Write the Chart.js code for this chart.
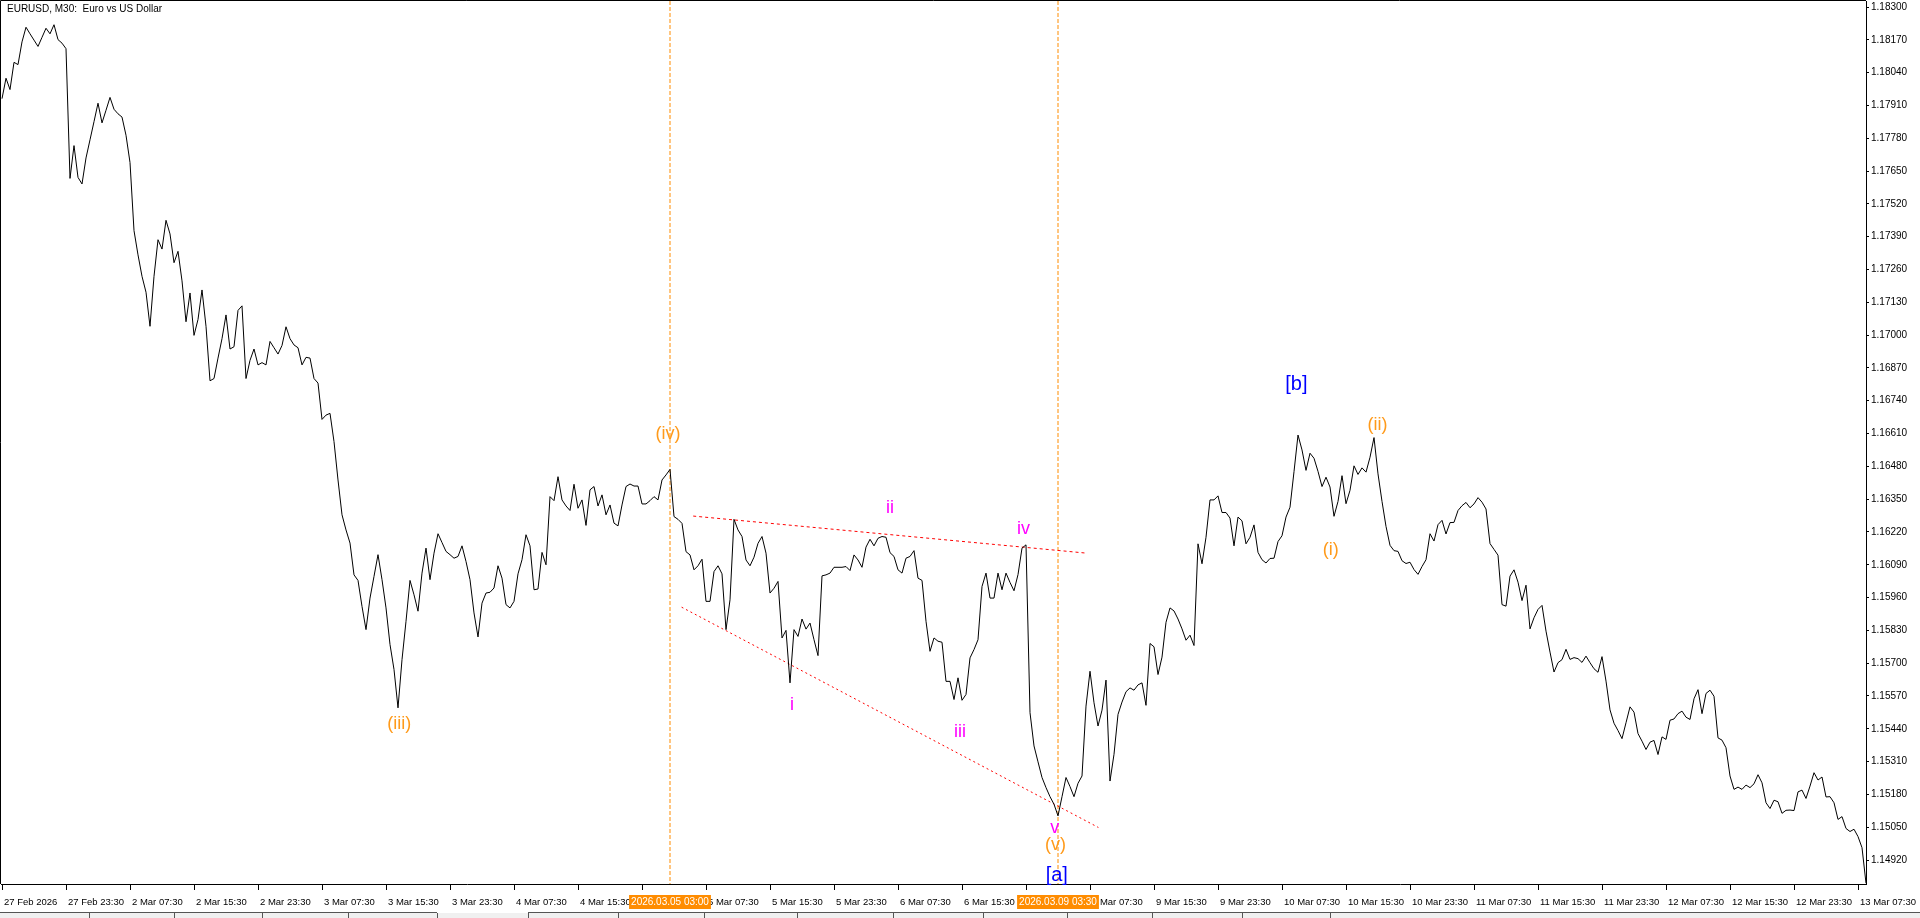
<!DOCTYPE html>
<html>
<head>
<meta charset="utf-8">
<title>EURUSD, M30</title>
<script src="https://cdn.jsdelivr.net/npm/chart.js@4.4.1/dist/chart.umd.min.js"></script>
<style>
  html, body { margin: 0; padding: 0; background: #fff; overflow: hidden; }
  #wrap { position: relative; width: 1920px; height: 918px; }
</style>
</head>
<body>
<div id="wrap"><canvas id="priceChart"></canvas></div>
<script>
// M30 closes, one per bar, bar 0 = 27 Feb 15:30
const closes = [
  1.17937, 1.18018, 1.17973, 1.18081, 1.18072, 1.18162, 1.18220, 1.18194, 1.18169, 1.18144,
  1.18180, 1.18216, 1.18194, 1.18230, 1.18171, 1.18157, 1.18135, 1.17621, 1.17751, 1.17625,
  1.17599, 1.17702, 1.17774, 1.17846, 1.17919, 1.17841, 1.17891, 1.17942, 1.17895, 1.17877,
  1.17864, 1.17792, 1.17684, 1.17414, 1.17318, 1.17233, 1.17170, 1.17035, 1.17233, 1.17378,
  1.17341, 1.17455, 1.17401, 1.17287, 1.17332, 1.17215, 1.17053, 1.17167, 1.16999, 1.17062,
  1.17179, 1.17035, 1.16819, 1.16828, 1.16909, 1.16986, 1.17080, 1.16945, 1.16954, 1.17098,
  1.17116, 1.16828, 1.16900, 1.16945, 1.16882, 1.16891, 1.16882, 1.16975, 1.16950, 1.16925,
  1.16959, 1.17033, 1.16986, 1.16961, 1.16950, 1.16882, 1.16912, 1.16909, 1.16828, 1.16810,
  1.16666, 1.16683, 1.16690, 1.16578, 1.16426, 1.16288, 1.16228, 1.16176, 1.16050, 1.16028,
  1.15925, 1.15833, 1.15958, 1.16044, 1.16130, 1.16031, 1.15919, 1.15774, 1.15675, 1.15523,
  1.15714, 1.15866, 1.16028, 1.15971, 1.15906, 1.16057, 1.16156, 1.16031, 1.16136, 1.16213,
  1.16178, 1.16143, 1.16130, 1.16116, 1.16123, 1.16165, 1.16103, 1.16031, 1.15899, 1.15804,
  1.15938, 1.15978, 1.15981, 1.15998, 1.16086, 1.16037, 1.15932, 1.15919, 1.15945, 1.16054,
  1.16110, 1.16209, 1.16165, 1.15991, 1.15994, 1.16139, 1.16090, 1.16360, 1.16344, 1.16439,
  1.16347, 1.16323, 1.16305, 1.16409, 1.16314, 1.16347, 1.16246, 1.16387, 1.16400, 1.16323,
  1.16367, 1.16288, 1.16327, 1.16255, 1.16244, 1.16327, 1.16400, 1.16410, 1.16402, 1.16402,
  1.16331, 1.16331, 1.16344, 1.16360, 1.16347, 1.16426, 1.16446, 1.16468, 1.16281, 1.16270,
  1.16254, 1.16142, 1.16129, 1.16070, 1.16086, 1.16112, 1.15945, 1.15945, 1.16063, 1.16086,
  1.16054, 1.15833, 1.15951, 1.16270, 1.16228, 1.16202, 1.16109, 1.16086, 1.16120, 1.16175,
  1.16202, 1.16136, 1.15978, 1.15997, 1.16024, 1.15800, 1.15830, 1.15622, 1.15833, 1.15806,
  1.15875, 1.15835, 1.15859, 1.15793, 1.15730, 1.16046, 1.16050, 1.16057, 1.16080, 1.16080,
  1.16080, 1.16083, 1.16067, 1.16129, 1.16109, 1.16080, 1.16160, 1.16191, 1.16165, 1.16195,
  1.16202, 1.16199, 1.16138, 1.16123, 1.16070, 1.16057, 1.16116, 1.16123, 1.16146, 1.16037,
  1.16028, 1.15866, 1.15747, 1.15800, 1.15787, 1.15783, 1.15628, 1.15628, 1.15556, 1.15642,
  1.15553, 1.15576, 1.15721, 1.15754, 1.15793, 1.16004, 1.16057, 1.15958, 1.15958, 1.16057,
  1.15991, 1.16057, 1.16020, 1.15987, 1.16051, 1.16156, 1.16169, 1.15504, 1.15372, 1.15309,
  1.15247, 1.15207, 1.15171, 1.15141, 1.15095, 1.15171, 1.15247, 1.15211, 1.15171, 1.15224,
  1.15253, 1.15530, 1.15668, 1.15543, 1.15451, 1.15514, 1.15633, 1.15233, 1.15339, 1.15497,
  1.15546, 1.15587, 1.15602, 1.15593, 1.15614, 1.15622, 1.15533, 1.15778, 1.15765, 1.15655,
  1.15724, 1.15862, 1.15919, 1.15907, 1.15875, 1.15836, 1.15791, 1.15811, 1.15770, 1.16173,
  1.16094, 1.16199, 1.16347, 1.16347, 1.16363, 1.16297, 1.16297, 1.16275, 1.16165, 1.16279,
  1.16264, 1.16173, 1.16199, 1.16248, 1.16139, 1.16110, 1.16097, 1.16115, 1.16116, 1.16182,
  1.16205, 1.16279, 1.16318, 1.16459, 1.16604, 1.16545, 1.16464, 1.16532, 1.16512, 1.16460,
  1.16400, 1.16437, 1.16398, 1.16282, 1.16341, 1.16443, 1.16332, 1.16385, 1.16482, 1.16448,
  1.16474, 1.16457, 1.16516, 1.16594, 1.16450, 1.16341, 1.16242, 1.16167, 1.16146, 1.16143,
  1.16106, 1.16095, 1.16100, 1.16071, 1.16052, 1.16083, 1.16110, 1.16213, 1.16184, 1.16249,
  1.16266, 1.16212, 1.16257, 1.16258, 1.16305, 1.16324, 1.16337, 1.16316, 1.16331, 1.16356,
  1.16338, 1.16311, 1.16174, 1.16151, 1.16128, 1.15932, 1.15926, 1.16045, 1.16070, 1.16021,
  1.15948, 1.16009, 1.15836, 1.15880, 1.15913, 1.15929, 1.15827, 1.15744, 1.15665, 1.15702,
  1.15714, 1.15755, 1.15715, 1.15722, 1.15718, 1.15703, 1.15728, 1.15702, 1.15678, 1.15664,
  1.15726, 1.15629, 1.15515, 1.15462, 1.15433, 1.15401, 1.15464, 1.15527, 1.15506, 1.15421,
  1.15391, 1.15358, 1.15387, 1.15394, 1.15338, 1.15408, 1.15398, 1.15474, 1.15479, 1.15500,
  1.15510, 1.15486, 1.15477, 1.15559, 1.15595, 1.15500, 1.15580, 1.15593, 1.15569, 1.15404,
  1.15395, 1.15365, 1.15253, 1.15200, 1.15209, 1.15200, 1.15217, 1.15207, 1.15222, 1.15258,
  1.15226, 1.15147, 1.15124, 1.15157, 1.15151, 1.15105, 1.15117, 1.15118, 1.15116, 1.15190,
  1.15197, 1.15164, 1.15213, 1.15266, 1.15237, 1.15249, 1.15170, 1.15171, 1.15147, 1.15081,
  1.15092, 1.15045, 1.15033, 1.15042, 1.15013, 1.14969, 1.14828
];

// time axis: bar index of each tick and its label
const xTickBars = [0, 16, 32, 48, 64, 80, 96, 112, 128, 144, 160, 176, 192, 208, 224,
  240, 256, 272, 288, 304, 320, 336, 352, 368, 384, 400, 416, 432, 448, 464];
const xTickLabels = ['27 Feb 2026', '27 Feb 23:30', '2 Mar 07:30', '2 Mar 15:30', '2 Mar 23:30',
  '3 Mar 07:30', '3 Mar 15:30', '3 Mar 23:30', '4 Mar 07:30', '4 Mar 15:30', '4 Mar 23:30',
  '5 Mar 07:30', '5 Mar 15:30', '5 Mar 23:30', '6 Mar 07:30', '6 Mar 15:30', '6 Mar 23:30',
  '9 Mar 07:30', '9 Mar 15:30', '9 Mar 23:30', '10 Mar 07:30', '10 Mar 15:30', '10 Mar 23:30',
  '11 Mar 07:30', '11 Mar 15:30', '11 Mar 23:30', '12 Mar 07:30', '12 Mar 15:30', '12 Mar 23:30',
  '13 Mar 07:30'];

// price axis ticks
const yTicks = [1.18300, 1.18170, 1.18040, 1.17910, 1.17780, 1.17650, 1.17520, 1.17390, 1.17260,
  1.17130, 1.17000, 1.16870, 1.16740, 1.16610, 1.16480, 1.16350, 1.16220, 1.16090, 1.15960,
  1.15830, 1.15700, 1.15570, 1.15440, 1.15310, 1.15180, 1.15050, 1.14920];
const yMin = 1.14825;
const yMax = 1.18324;

// vertical lines (bar index) and their time stamps
const vLineBars = [167, 264];
const vLineLabels = ['2026.03.05 03:00', '2026.03.09 03:30'];

// triangle lines: [bar, price] at each end
const upperLineBars = [172.8, 271.2];
const upperLinePrices = [1.16283, 1.16136];
const lowerLineBars = [169.9, 274.1];
const lowerLinePrices = [1.15922, 1.15049];

// wave labels
const waveText = ['(iii)', '(iv)', 'i', 'ii', 'iii', 'iv', 'v', '(v)', '[a]', '[b]', '(i)', '(ii)'];
const waveBars = [99.3, 166.5, 197.5, 222, 239.5, 255.4, 263.2, 263.4, 263.7, 323.6, 332.2, 343.9];
const wavePrices = [1.15458, 1.16610, 1.15536, 1.16315, 1.15429, 1.16233, 1.15046, 1.14978,
  1.14857, 1.16804, 1.16150, 1.16644];

const FONT = '"Liberation Sans", Arial, sans-serif';

// colour by label style: [x] blue, (x) orange, x magenta
function waveColor(t) {
  if (t[0] === '[') return '#0000ff';
  if (t[0] === '(') return '#ff9a1a';
  return '#ff00ff';
}

// extra drawing: frame, title, wave labels, time stamps on axis, bottom strip
const decorPlugin = {
  id: 'decor',
  afterDatasetsDraw(chart) {
    const ctx = chart.ctx;
    const xs = chart.scales.x, ys = chart.scales.y;
    ctx.save();
    ctx.textAlign = 'center';
    ctx.textBaseline = 'middle';
    waveText.forEach((t, i) => {
      ctx.font = (t[0] === '[' ? '20px ' : '18px ') + FONT;
      ctx.fillStyle = waveColor(t);
      ctx.fillText(t, xs.getPixelForValue(waveBars[i]), ys.getPixelForValue(wavePrices[i]));
    });
    ctx.restore();
  },
  afterDraw(chart) {
    const ctx = chart.ctx;
    const a = chart.chartArea;
    const xs = chart.scales.x;
    ctx.save();
    // left and top frame
    ctx.strokeStyle = '#000';
    ctx.lineWidth = 1;
    ctx.beginPath();
    ctx.moveTo(0.5, a.bottom);
    ctx.lineTo(0.5, 0.5);
    ctx.lineTo(a.right, 0.5);
    ctx.stroke();
    // title
    ctx.font = '10px ' + FONT;
    ctx.fillStyle = '#000';
    ctx.textAlign = 'left';
    ctx.textBaseline = 'middle';
    ctx.fillText('EURUSD, M30:  Euro vs US Dollar', 7, 9);
    // time stamps of the vertical lines, painted over the axis labels
    ctx.textAlign = 'center';
    vLineBars.forEach((b, i) => {
      const px = Math.round(xs.getPixelForValue(b));
      const w = ctx.measureText(vLineLabels[i]).width + 4;
      ctx.fillStyle = '#ff8c00';
      ctx.fillRect(px - w / 2, 895, w, 14);
      ctx.fillStyle = '#fff';
      ctx.fillText(vLineLabels[i], px, 902.5);
    });
    // bottom tab strip
    ctx.fillStyle = '#f0f0f0';
    ctx.fillRect(0, 913, 1920, 5);
    ctx.strokeStyle = '#555';
    ctx.beginPath();
    ctx.moveTo(0, 912.5); ctx.lineTo(437, 912.5);
    ctx.moveTo(528, 912.5); ctx.lineTo(1920, 912.5);
    [89, 174, 262, 348, 437, 528, 618, 704, 797, 893, 983, 1067, 1152, 1242, 1330].forEach(x => {
      ctx.moveTo(x + 0.5, 913); ctx.lineTo(x + 0.5, 918);
    });
    ctx.stroke();
    ctx.restore();
  }
};

const chart1 = document.getElementById('priceChart');

new Chart(chart1, {
  type: 'line',
  data: {
    datasets: [
      {
        label: 'EURUSD',
        data: closes.map((v, i) => ({ x: i, y: v })),
        borderColor: '#000',
        borderWidth: 1,
        pointRadius: 0,
        tension: 0
      },
      {
        data: [{ x: upperLineBars[0], y: upperLinePrices[0] }, { x: upperLineBars[1], y: upperLinePrices[1] }],
        borderColor: '#ff0000', borderWidth: 1, borderDash: [3, 3], pointRadius: 0
      },
      {
        data: [{ x: lowerLineBars[0], y: lowerLinePrices[0] }, { x: lowerLineBars[1], y: lowerLinePrices[1] }],
        borderColor: '#ff0000', borderWidth: 1, borderDash: [2, 3], pointRadius: 0
      },
      {
        data: [{ x: vLineBars[0], y: yMax }, { x: vLineBars[0], y: yMin }],
        borderColor: '#ff8c00', borderWidth: 1, borderDash: [4, 2], pointRadius: 0
      },
      {
        data: [{ x: vLineBars[1], y: yMax }, { x: vLineBars[1], y: yMin }],
        borderColor: '#ff8c00', borderWidth: 1, borderDash: [4, 2], pointRadius: 0
      }
    ]
  },
  options: {
    animation: false,
    responsive: true,
    maintainAspectRatio: false,
    devicePixelRatio: 1,
    events: [],
    layout: { padding: { left: 1, top: 1, right: 0, bottom: 0 } },
    plugins: { legend: { display: false }, tooltip: { enabled: false } },
    scales: {
      x: {
        type: 'linear',
        min: -0.25,
        max: 466,
        afterBuildTicks: (s) => { s.ticks = xTickBars.map(v => ({ value: v })); },
        afterFit: (s) => { s.height = 34; s.paddingLeft = 0; s.paddingRight = 0; },
        grid: { drawOnChartArea: false, drawTicks: true, tickLength: 6, color: '#000' },
        border: { display: true, color: '#000' },
        ticks: {
          autoSkip: false,
          maxRotation: 0,
          minRotation: 0,
          align: 'start',
          labelOffset: 2,
          padding: 7,
          color: '#000',
          font: { family: FONT, size: 9.5 },
          callback: (value) => xTickLabels[xTickBars.indexOf(value)]
        }
      },
      y: {
        type: 'linear',
        position: 'right',
        min: yMin,
        max: yMax,
        afterBuildTicks: (s) => { s.ticks = yTicks.map(v => ({ value: v })); },
        afterFit: (s) => { s.width = 54; s.paddingTop = 0; s.paddingBottom = 0; },
        grid: { drawOnChartArea: false, drawTicks: true, tickLength: 3, color: '#000' },
        border: { display: true, color: '#000' },
        ticks: {
          autoSkip: false,
          padding: 2,
          color: '#000',
          font: { family: FONT, size: 10 },
          callback: (value) => value.toFixed(5)
        }
      }
    }
  },
  plugins: [decorPlugin]
});
</script>
</body>
</html>
